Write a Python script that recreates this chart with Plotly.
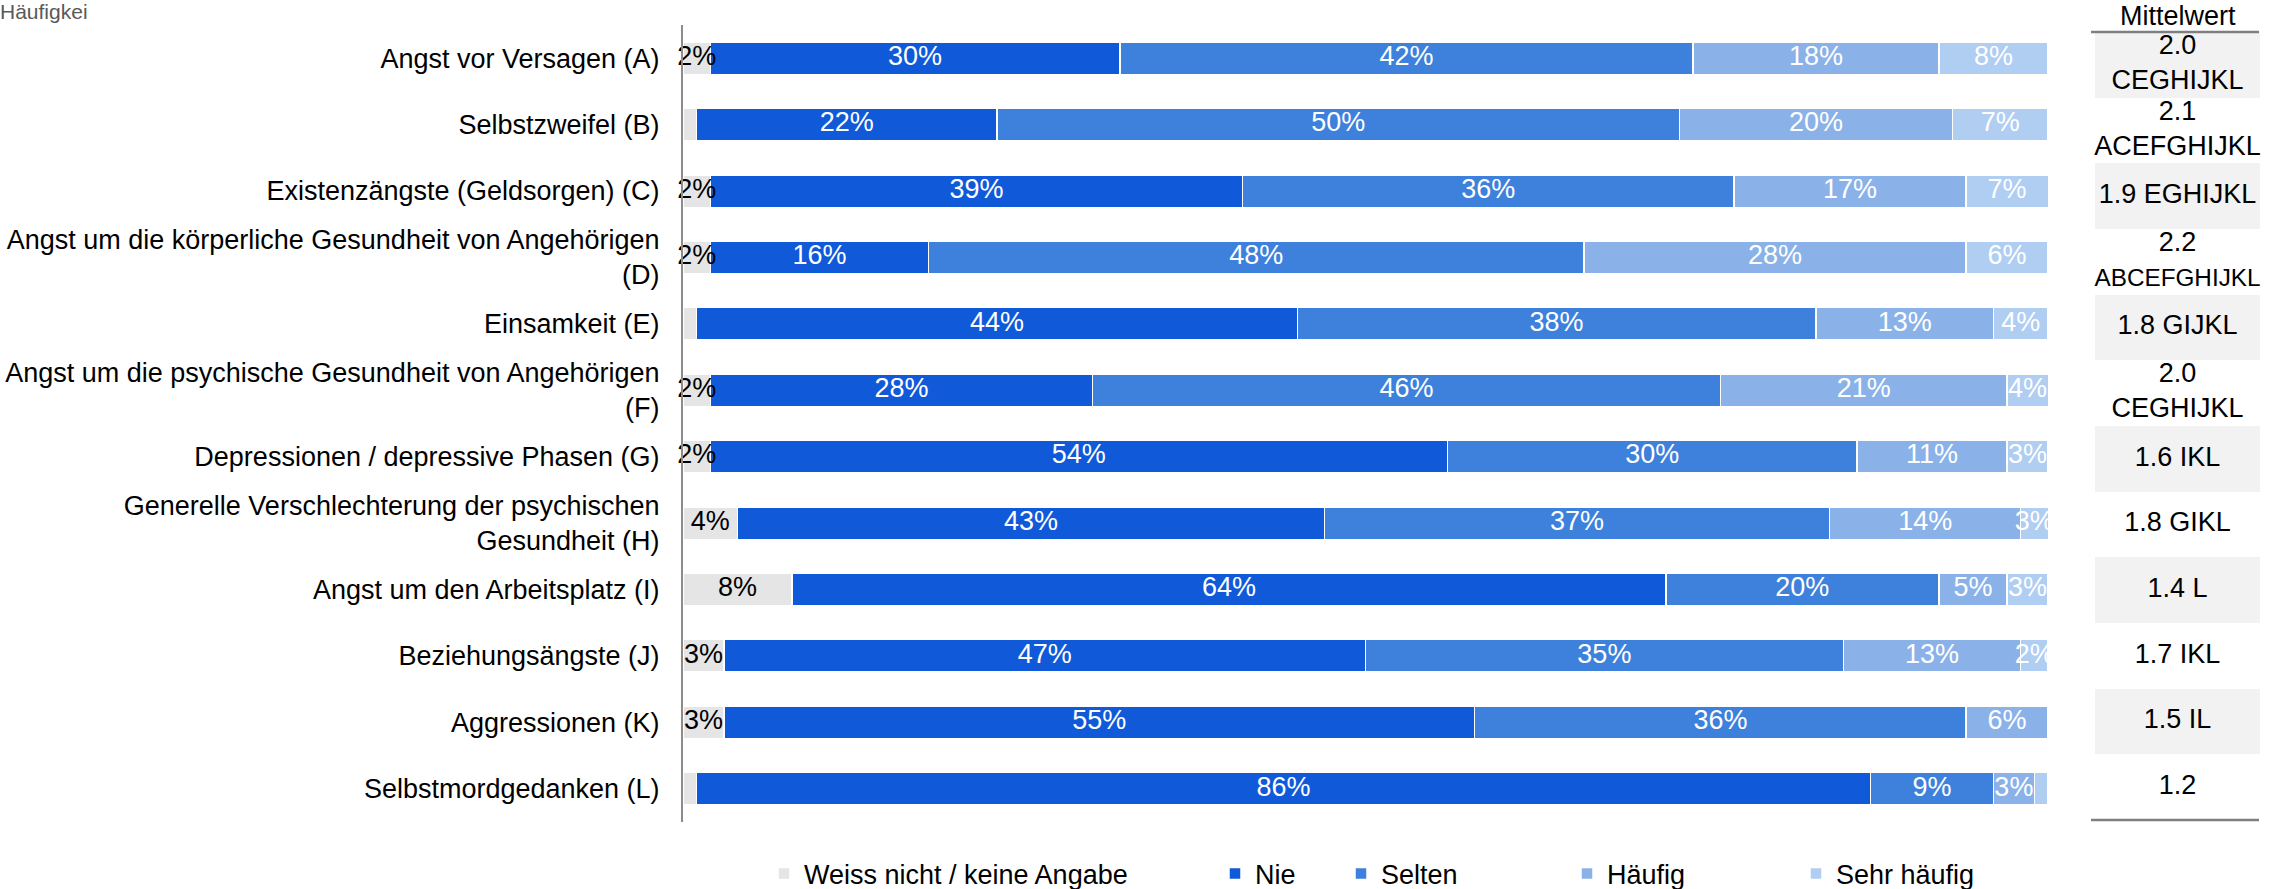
import plotly.graph_objects as go

# Frequency of worries, percent of respondents per answer category
categories = [
    "Angst vor Versagen (A)",
    "Selbstzweifel (B)",
    "Existenzängste (Geldsorgen) (C)",
    "Angst um die körperliche Gesundheit von Angehörigen<br>(D)",
    "Einsamkeit (E)",
    "Angst um die psychische Gesundheit von Angehörigen<br>(F)",
    "Depressionen / depressive Phasen (G)",
    "Generelle Verschlechterung der psychischen<br>Gesundheit (H)",
    "Angst um den Arbeitsplatz (I)",
    "Beziehungsängste (J)",
    "Aggressionen (K)",
    "Selbstmordgedanken (L)",
]
weiss_nicht = [2, 1, 2, 2, 1, 2, 2, 4, 8, 3, 3, 1]
nie = [30, 22, 39, 16, 44, 28, 54, 43, 64, 47, 55, 86]
selten = [42, 50, 36, 48, 38, 46, 30, 37, 20, 35, 36, 9]
haeufig = [18, 20, 17, 28, 13, 21, 11, 14, 5, 13, 6, 3]
sehr_haeufig = [8, 7, 7, 6, 4, 4, 3, 3, 3, 2, 1, 1]
series_names = ["Weiss nicht / keine Angabe", "Nie", "Selten", "Häufig", "Sehr häufig"]

# Mean score and the items it differs significantly from
mean_values = [2.0, 2.1, 1.9, 2.2, 1.8, 2.0, 1.6, 1.8, 1.4, 1.7, 1.5, 1.2]
sig_letters = ["CEGHIJKL", "ACEFGHIJKL", "EGHIJKL", "ABCEFGHIJKL", "GIJKL", "CEGHIJKL",
               "IKL", "GIKL", "L", "IKL", "IL", ""]

FONT = "Liberation Sans, Arial, sans-serif"
FS = 27
colors = ["#e5e5e5", "#1059d9", "#3d81dc", "#8ab2e9", "#b0cdf2"]
text_colors = ["#000000", "#ffffff", "#ffffff", "#ffffff", "#ffffff"]

W, H = 2273, 889
ML, MR, MT, MB = 683, 13, 25, 67
plot_w = W - ML - MR
plot_h = H - MT - MB


def px_x(px):
    return (px - ML) / plot_w


def px_y(py):
    return (H - MB - py) / plot_h


fig = go.Figure()

series = [weiss_nicht, nie, selten, haeufig, sehr_haeufig]
legend_px = [786, 1237, 1363, 1589, 1818]

# Stacked bar segments
for i, (name, vals) in enumerate(zip(series_names, series)):
    fig.add_trace(go.Bar(
        y=categories, x=vals, orientation="h", name=name,
        marker=dict(color=colors[i], line=dict(color="white", width=1.5)),
        width=0.49, legend="legend" if i == 0 else f"legend{i + 1}",
        hoverinfo="skip",
    ))

# Percentage labels centred on each visible segment
starts = [0.0] * len(categories)
for i, vals in enumerate(series):
    mids, labels = [], []
    for k, v in enumerate(vals):
        s = starts[k]
        e = min(s + v, 100)
        mids.append((s + e) / 2)
        labels.append(f"{v}%" if v >= 2 else "")
        starts[k] = s + v
    fig.add_trace(go.Scatter(
        x=mids, y=categories, mode="text", text=labels,
        textposition="middle center",
        textfont=dict(color=text_colors[i], size=FS, family=FONT),
        showlegend=False, hoverinfo="skip", cliponaxis=(i != 0),
    ))

# Mean column (own row grid between the two rules): shaded cells and text
shaded = [c for k, c in enumerate(categories) if k % 2 == 0]
fig.add_trace(go.Bar(
    y=shaded, x=[1] * len(shaded), base=0, orientation="h", xaxis="x2", yaxis="y2",
    width=1, marker=dict(color="#f2f2f2", line=dict(width=0)),
    showlegend=False, hoverinfo="skip",
))

mean_text = []
for m, s in zip(mean_values, sig_letters):
    if len(s) > 10:
        mean_text.append(f"{m:.1f}<br><span style='font-size:24.3px'>{s}</span>")
    elif len(s) > 7:
        mean_text.append(f"{m:.1f}<br>{s}")
    else:
        mean_text.append(f"{m:.1f} {s}".strip())

fig.add_trace(go.Scatter(
    x=[0.5] * len(categories), y=categories, mode="text", text=mean_text,
    textposition="middle center", xaxis="x2", yaxis="y2",
    textfont=dict(size=FS, color="#000000", family=FONT),
    showlegend=False, hoverinfo="skip", cliponaxis=False,
))

cell_x0 = px_x(2095)
rule_x0 = px_x(2091)
table_top, table_bottom = 32, 820
shapes = [
    dict(type="line", xref="paper", yref="paper", x0=rule_x0, x1=px_x(2259),
         y0=px_y(table_top), y1=px_y(table_top), line=dict(color="#7f7f7f", width=2.5)),
    dict(type="line", xref="paper", yref="paper", x0=rule_x0, x1=px_x(2259),
         y0=px_y(table_bottom), y1=px_y(table_bottom),
         line=dict(color="#7f7f7f", width=2.5)),
]

legends = {}
for i, lx in enumerate(legend_px):
    key = "legend" if i == 0 else f"legend{i + 1}"
    legends[key] = dict(
        x=(lx - 22) / W, xref="container", xanchor="left",
        y=1 - 874 / H, yref="container", yanchor="middle",
        orientation="h", bgcolor="rgba(0,0,0,0)", borderwidth=0,
        font=dict(size=FS, color="#000000", family=FONT),
        itemclick=False, itemdoubleclick=False,
    )

n = len(categories)
fig.update_layout(
    width=W, height=H,
    margin=dict(l=ML, r=MR, t=MT, b=MB, pad=0, autoexpand=False),
    paper_bgcolor="white", plot_bgcolor="white",
    barmode="stack",
    font=dict(family=FONT, size=FS, color="#000000"),
    title=dict(text="Häufigkei", x=0, xref="container", xanchor="left",
               y=1 - 12 / H, yref="container", yanchor="middle",
               font=dict(size=21, color="#595959", family=FONT), pad=dict(l=0, t=0)),
    xaxis=dict(domain=[0, px_x(2048)], range=[0, 100], visible=False, fixedrange=True,
               automargin=False),
    xaxis2=dict(domain=[cell_x0, 1.0], range=[0, 1], visible=False, anchor="y2",
                fixedrange=True, automargin=False),
    yaxis=dict(range=[n - 0.5, -0.5], categoryorder="array", categoryarray=categories,
               showline=True, linecolor="#8c8c8c", linewidth=2,
               ticks="", showgrid=False, zeroline=False, ticklabelstandoff=16,
               automargin=False,
               tickfont=dict(size=FS, color="#000000", family=FONT), fixedrange=True),
    yaxis2=dict(domain=[px_y(table_bottom), px_y(table_top)], range=[n - 0.5, -0.5],
                categoryorder="array", categoryarray=categories,
                anchor="x2", visible=False, fixedrange=True, automargin=False),
    annotations=[dict(text="Mittelwert", xref="paper", yref="paper",
                      x=(cell_x0 + 1.0) / 2, y=px_y(16), xanchor="center",
                      yanchor="middle", showarrow=False,
                      font=dict(size=FS, color="#000000", family=FONT))],
    shapes=shapes,
    **legends,
)

fig.write_html("out.html")
